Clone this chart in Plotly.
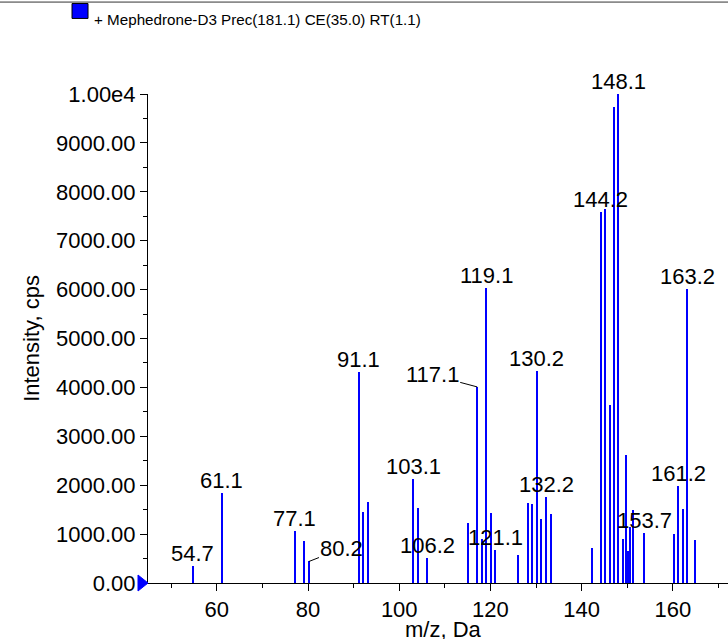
import plotly.graph_objects as go

# ---- data ----
mz = [54.7, 61.1, 77.1, 79.1, 80.2, 91.1, 92.1, 93.1, 103.1, 104.1, 106.2,
      115.1, 117.1, 118.1, 119.1, 120.1, 121.1, 126.1, 128.2, 129.2, 130.2,
      131.2, 132.2, 133.2, 142.2, 144.2, 145.2, 146.2, 147.2, 148.1, 149.2,
      149.7, 150.2, 150.7, 151.2, 153.7, 160.2, 161.2, 162.2, 163.2, 164.9]
intensity = [340, 1840, 1060, 860, 440, 4310, 1460, 1660, 2130, 1530, 510,
             1220, 4010, 900, 6030, 1440, 670, 570, 1640, 1610, 4340,
             1300, 1750, 1420, 720, 7590, 7640, 3640, 9730, 10000, 890,
             2620, 660, 1150, 1490, 1020, 1010, 1990, 1520, 6010, 870]
labeled_peaks = [54.7, 61.1, 77.1, 80.2, 91.1, 103.1, 106.2, 117.1, 119.1,
                 121.1, 130.2, 132.2, 144.2, 148.1, 153.7, 161.2, 163.2]
ytick_values = [0, 1000, 2000, 3000, 4000, 5000, 6000, 7000, 8000, 9000, 10000]
ytick_labels = ["0.00", "1000.00", "2000.00", "3000.00", "4000.00", "5000.00",
                "6000.00", "7000.00", "8000.00", "9000.00", "1.00e4"]
series_name = "+ Mephedrone-D3 Prec(181.1) CE(35.0) RT(1.1)"
x_title = "m/z, Da"
y_title = "Intensity, cps"

# ---- style ----
FONT = "Liberation Sans, Arial, sans-serif"
BLUE = "#0000FF"
X_RANGE = [44.9, 172.1]
Y_RANGE = [0, 10000]
# leader-line offsets (pixels) for labels moved away from their peak
label_offsets = {80.2: (33, -13), 117.1: (-45, -12)}

fig = go.Figure()
fig.add_trace(go.Bar(x=mz, y=intensity, width=0.26, name=series_name,
                     marker=dict(color=BLUE, line=dict(width=0)),
                     showlegend=False, cliponaxis=False))

annotations = []
for p in labeled_peaks:
    i = mz.index(p)
    if p in label_offsets:
        ax, ay = label_offsets[p]
        annotations.append(dict(x=mz[i], y=intensity[i], xref="x", yref="y",
                                text=f"{p:.1f}", showarrow=True, ax=ax, ay=ay,
                                arrowhead=0, arrowwidth=1, arrowcolor="black",
                                standoff=0, startstandoff=0,
                                font=dict(family=FONT, size=22, color="black")))
    else:
        annotations.append(dict(x=mz[i], y=intensity[i], xref="x", yref="y",
                                text=f"{p:.1f}", showarrow=False,
                                yanchor="bottom", yshift=-2,
                                font=dict(family=FONT, size=22, color="black")))

# series title (legend-like)
annotations.append(dict(x=-0.0966, y=1.152, xref="paper", yref="paper",
                        text=series_name, showarrow=False, xanchor="left",
                        yanchor="middle",
                        font=dict(family=FONT, size=15.2, color="black")))
# x-axis title (sits at the bottom edge as in the reference)
annotations.append(dict(x=0.51, y=-0.1247, xref="paper", yref="paper",
                        text=x_title, showarrow=False, xanchor="center",
                        yanchor="bottom",
                        font=dict(family=FONT, size=22, color="black")))

shapes = [
    # legend square
    dict(type="rect", xref="paper", yref="paper", x0=-0.131, x1=-0.1034,
         y0=1.1545, y1=1.185, fillcolor=BLUE, line=dict(color="black", width=1)),
    # top border line
    dict(type="line", xref="paper", yref="paper", x0=-0.2552, x1=1,
         y0=1.188, y1=1.188, line=dict(color="#333333", width=1)),
    # zero marker triangle on y axis
    dict(type="path", xref="paper", yref="paper", xsizemode="pixel",
         ysizemode="pixel", xanchor=0, yanchor=0,
         path="M -10,-8 L 0,0 L -10,8 Z",
         fillcolor=BLUE, line=dict(color=BLUE, width=1)),
]

fig.update_layout(
    width=728, height=639, autosize=False,
    margin=dict(l=148, r=0, t=94, b=56, pad=0),
    paper_bgcolor="white", plot_bgcolor="white",
    font=dict(family=FONT, size=22, color="black"),
    bargap=0,
    annotations=annotations, shapes=shapes,
    xaxis=dict(range=X_RANGE, showline=True, linecolor="black", linewidth=1,
               ticks="outside", ticklen=7, tickcolor="black", tickmode="linear",
               tick0=0, dtick=20, showgrid=False, zeroline=False,
               automargin=False,
               minor=dict(tickmode="linear", tick0=0, dtick=10, ticks="outside",
                          ticklen=4, tickcolor="black", showgrid=False),
               tickfont=dict(family=FONT, size=22, color="black")),
    yaxis=dict(range=Y_RANGE, showline=True, linecolor="black", linewidth=1,
               ticks="outside", ticklen=7, tickcolor="black", tickmode="array",
               tickvals=ytick_values, ticktext=ytick_labels, showgrid=False,
               zeroline=False, ticklabelstandoff=0, automargin=False,
               minor=dict(tickmode="linear", tick0=0, dtick=500, ticks="outside",
                          ticklen=4, tickcolor="black", showgrid=False),
               tickfont=dict(family=FONT, size=22, color="black"),
               title=dict(text=y_title, standoff=10,
                          font=dict(family=FONT, size=22, color="black"))),
)

fig.write_html("out.html", config={"displayModeBar": False},
               post_script="document.body.style.margin='0';")
